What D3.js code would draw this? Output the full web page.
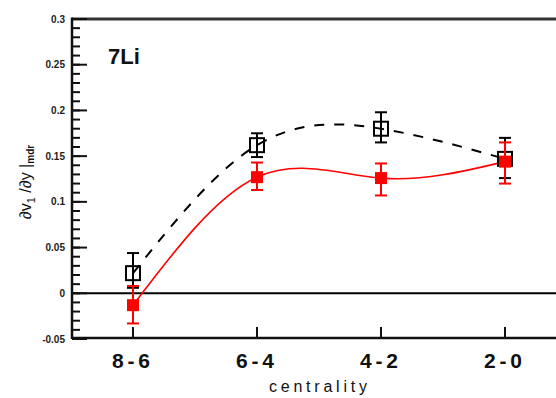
<!DOCTYPE html>
<html><head><meta charset="utf-8">
<script src="https://cdn.jsdelivr.net/npm/d3@7"></script>
<style>
html,body{margin:0;padding:0;background:#fff;}
svg{display:block;font-family:"Liberation Sans",Arial,sans-serif;}
</style></head>
<body>
<svg id="c" width="556" height="398"></svg>
<script>
const categories = ["8-6","6-4","4-2","2-0"];
const openVals = [0.022, 0.162, 0.180, 0.147];
const openHi   = [0.044, 0.175, 0.198, 0.170];
const openLo   = [0.006, 0.149, 0.165, 0.126];
const redVals  = [-0.013, 0.127, 0.126, 0.144];
const redHi    = [0.008, 0.143, 0.142, 0.165];
const redLo    = [-0.033, 0.113, 0.107, 0.120];
const yMajor = [-0.05, 0, 0.05, 0.1, 0.15, 0.2, 0.25, 0.3];
const yMajorLabels = ["-0.05","0","0.05","0.1","0.15","0.2","0.25","0.3"];
const yMinor = d3.range(-5, 31).map(v => v / 100);
const panelLabel = "7Li";
const xTitle = "centrality";

const svg = d3.select("#c");
const x = d3.scalePoint().domain(categories).range([133, 505]);
const y = d3.scaleLinear().domain([-0.05, 0.3]).range([339, 19]);
const L = 72, R = 556;

// frame
svg.append("line").attr("x1", L).attr("x2", R).attr("y1", y(0.3)).attr("y2", y(0.3))
  .attr("stroke", "#333").attr("stroke-width", 3);
svg.append("line").attr("x1", L).attr("x2", R).attr("y1", 338).attr("y2", 338)
  .attr("stroke", "#111").attr("stroke-width", 2.5);
svg.append("line").attr("x1", L).attr("x2", L).attr("y1", y(0.3) - 1.5).attr("y2", 339)
  .attr("stroke", "#111").attr("stroke-width", 2.5);
// zero line
svg.append("line").attr("x1", L).attr("x2", R).attr("y1", y(0)).attr("y2", y(0))
  .attr("stroke", "#000").attr("stroke-width", 2);

// y ticks (inward)
svg.selectAll(".ymin").data(yMinor).enter().append("line")
  .attr("x1", L).attr("x2", L + 8).attr("y1", d => y(d)).attr("y2", d => y(d))
  .attr("stroke", "#111").attr("stroke-width", 2);
svg.selectAll(".ymaj").data(yMajor).enter().append("line")
  .attr("x1", L).attr("x2", L + 15).attr("y1", d => y(d)).attr("y2", d => y(d))
  .attr("stroke", "#111").attr("stroke-width", 2);
svg.selectAll(".ylab").data(yMajor).enter().append("text")
  .attr("x", 65).attr("y", d => y(d) + 3.5).attr("text-anchor", "end")
  .attr("font-size", 10).attr("font-weight", "bold").attr("fill", "#222")
  .text((d, i) => yMajorLabels[i]);

// x ticks (inward, up)
svg.selectAll(".xt").data(categories).enter().append("line")
  .attr("x1", d => x(d)).attr("x2", d => x(d)).attr("y1", 338).attr("y2", 327)
  .attr("stroke", "#111").attr("stroke-width", 2);
svg.selectAll(".xl").data(categories).enter().append("text")
  .attr("x", d => x(d) - 2).attr("y", 368).attr("text-anchor", "middle")
  .attr("font-size", 21).attr("font-weight", "bold").attr("fill", "#111")
  .attr("textLength", 38).attr("lengthAdjust", "spacing")
  .text(d => d);
svg.append("text").attr("x", 318).attr("y", 392).attr("text-anchor", "middle")
  .attr("font-size", 16).attr("fill", "#111").attr("textLength", 98).attr("lengthAdjust", "spacing")
  .text(xTitle);

// y title
const yt = svg.append("text").attr("transform", "translate(31,182) rotate(-90)")
  .attr("text-anchor", "middle").attr("font-size", 16).attr("fill", "#111");
yt.append("tspan").text("∂v");
yt.append("tspan").attr("font-size", 11).attr("dy", 4).text("1");
yt.append("tspan").attr("dy", -4).text(" /∂y  |");
yt.append("tspan").attr("font-size", 10).attr("dy", 3).attr("font-weight", "bold").text("mdr");

// panel label
svg.append("text").attr("x", 108).attr("y", 64).attr("font-size", 22)
  .attr("font-weight", "bold").attr("fill", "#111").text(panelLabel);

// curves
const line = d3.line().x((d, i) => x(categories[i])).y(d => y(d)).curve(d3.curveNatural);
svg.append("path").attr("d", line(openVals)).attr("fill", "none")
  .attr("stroke", "#000").attr("stroke-width", 2).attr("stroke-dasharray", "10,10");
svg.append("path").attr("d", line(redVals)).attr("fill", "none")
  .attr("stroke", "#ff0000").attr("stroke-width", 1.6);

// open points
const og = svg.append("g");
categories.forEach((c, i) => {
  const cx = x(c);
  og.append("line").attr("x1", cx).attr("x2", cx).attr("y1", y(openHi[i])).attr("y2", y(openLo[i]))
    .attr("stroke", "#000").attr("stroke-width", 2);
  [openHi[i], openLo[i]].forEach(v => og.append("line").attr("x1", cx - 6).attr("x2", cx + 6)
    .attr("y1", y(v)).attr("y2", y(v)).attr("stroke", "#000").attr("stroke-width", 2));
  og.append("rect").attr("x", cx - 7).attr("y", y(openVals[i]) - 7).attr("width", 14).attr("height", 14)
    .attr("fill", "none").attr("stroke", "#000").attr("stroke-width", 2);
});
// red points
const rg = svg.append("g");
categories.forEach((c, i) => {
  const cx = x(c);
  rg.append("line").attr("x1", cx).attr("x2", cx).attr("y1", y(redHi[i])).attr("y2", y(redLo[i]))
    .attr("stroke", "#ff0000").attr("stroke-width", 2);
  [redHi[i], redLo[i]].forEach(v => rg.append("line").attr("x1", cx - 6).attr("x2", cx + 6)
    .attr("y1", y(v)).attr("y2", y(v)).attr("stroke", "#ff0000").attr("stroke-width", 2));
  rg.append("rect").attr("x", cx - 6).attr("y", y(redVals[i]) - 6).attr("width", 12).attr("height", 12)
    .attr("fill", "#ff0000");
});
</script>
</body></html>
